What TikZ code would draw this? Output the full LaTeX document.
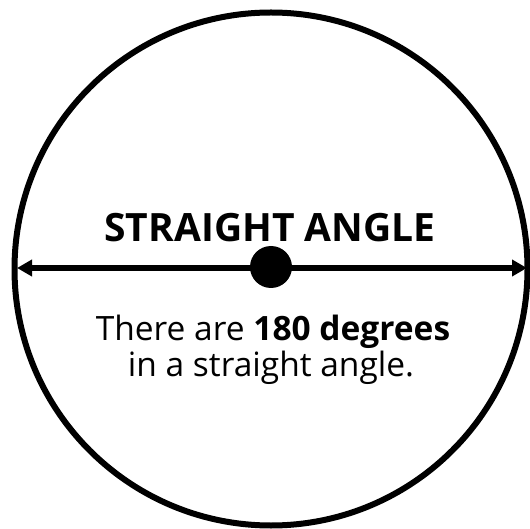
\documentclass[tikz,border=0pt]{standalone}
\usepackage{fontspec}
\setmainfont{Open Sans}
\usetikzlibrary{arrows.meta}
\begin{document}
\begin{tikzpicture}[x=1pt,y=-1pt,
  ring/.style={draw=black,line width=6pt,circle,minimum size=513pt,inner sep=0pt},
  centre/.style={fill=black,circle,minimum size=42pt,inner sep=0pt},
  arr/.style={line width=5.5pt,{Triangle[length=15pt,width=16pt]}-{Triangle[length=15pt,width=16pt]}},
  title/.style={font=\fontsize{39}{47}\selectfont\bfseries,inner sep=0pt,anchor=base},
  body/.style={font=\fontsize{33.5}{35}\selectfont,inner sep=0pt,anchor=base}]
\useasboundingbox (0,0) rectangle (530,529);
\node[ring] (c) at (271,269) {};
\coordinate (L) at (17,268);
\coordinate (R) at (527,268);
\draw[arr] (L) -- (R);
\node[centre] (dot) at (271,267) {};
\node[title] (t) at (270,242) {STRAIGHT ANGLE};
\node[body] (b1) at (273,340) {There are \textbf{180 degrees}};
\node[body] (b2) at (271,376) {in a straight angle.};
\end{tikzpicture}
\end{document}
